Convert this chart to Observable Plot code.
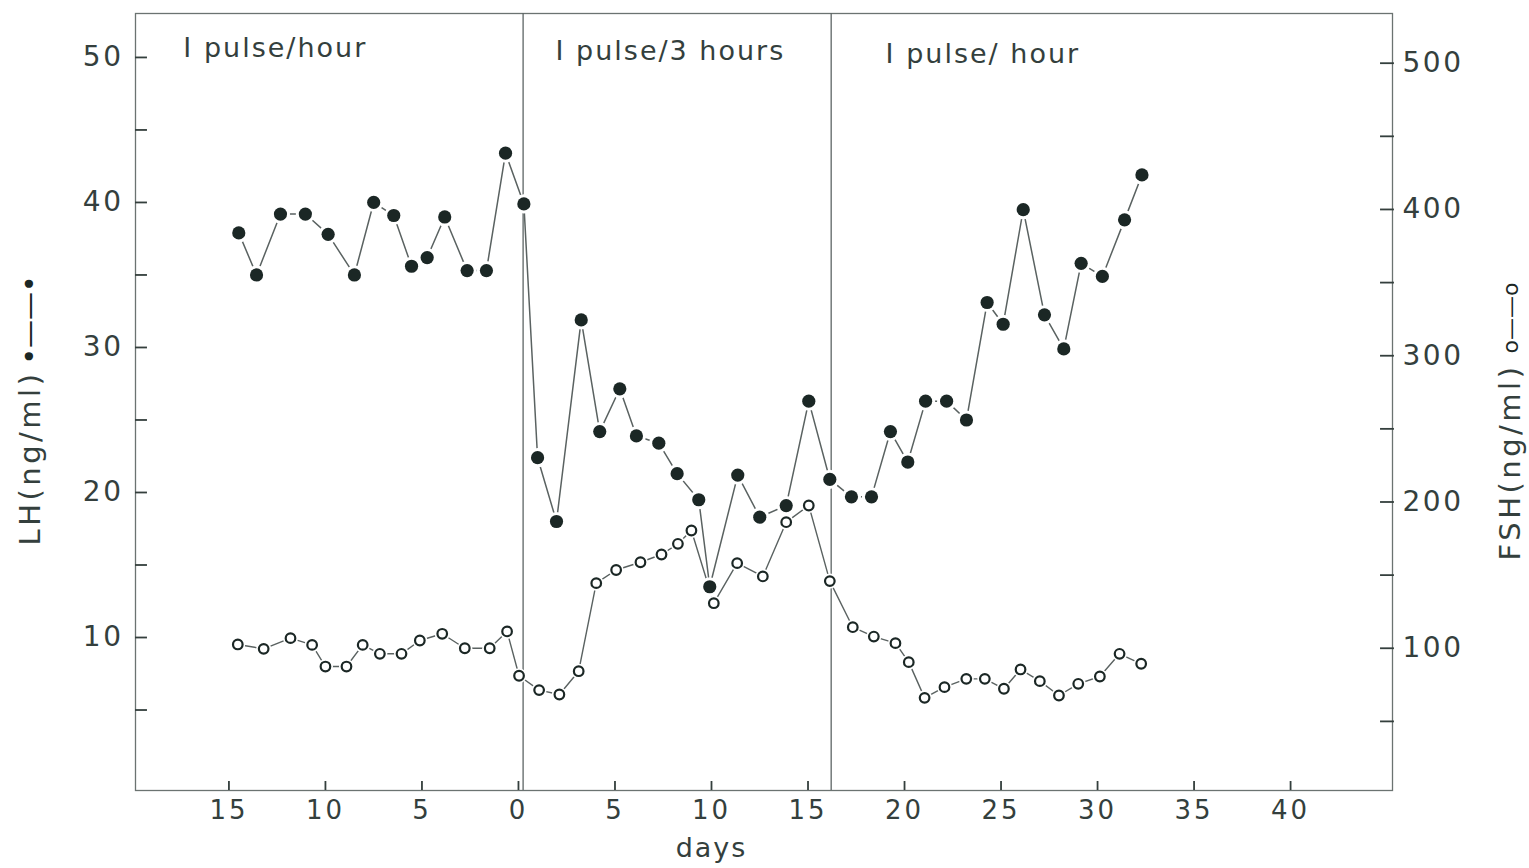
<!DOCTYPE html>
<html>
<head>
<meta charset="utf-8">
<script src="https://cdn.jsdelivr.net/npm/d3@7"></script>
<script src="https://cdn.jsdelivr.net/npm/@observablehq/plot@0.6"></script>
<style>
  body { margin: 0; background: #fff; }
  #chart svg { display: block; }
</style>
</head>
<body>
<div id="chart"></div>
<script>
// ---- data ----
const lhDays = [-14.49, -13.57, -12.33, -11.04, -9.86, -8.50, -7.50, -6.46, -5.54, -4.73, -3.82, -2.66, -1.66, -0.67, 0.28,
  0.99, 1.97, 3.25, 4.21, 5.25, 6.11, 7.27, 8.22, 9.34, 9.91, 11.36, 12.50, 13.87, 15.04, 16.13,
  17.25, 18.29, 19.27, 20.17, 21.09, 22.18, 23.21, 24.28, 25.11, 26.15, 27.25, 28.25, 29.15, 30.25, 31.4, 32.3];
const lhValues = [37.9, 35.0, 39.2, 39.2, 37.8, 35.0, 40.0, 39.1, 35.6, 36.2, 39.0, 35.3, 35.3, 43.4, 39.9,
  22.4, 18.0, 31.9, 24.2, 27.15, 23.9, 23.4, 21.3, 19.5, 13.5, 21.2, 18.3, 19.1, 26.3, 20.9,
  19.7, 19.7, 24.2, 22.1, 26.3, 26.3, 25.0, 33.1, 31.6, 39.5, 32.25, 29.9, 35.8, 34.9, 38.8, 41.9];

const fshDays = [-14.54, -13.2, -11.81, -10.69, -10.0, -8.91, -8.07, -7.18, -6.06, -5.11, -3.95, -2.78, -1.49, -0.59,
  0.03, 1.07, 2.12, 3.12, 4.03, 5.06, 6.32, 7.41, 8.26, 8.96, 10.12, 11.33, 12.66, 13.87, 15.04, 16.13,
  17.32, 18.41, 19.53, 20.22, 21.04, 22.07, 23.2, 24.16, 25.15, 26.01, 27.01, 28.0, 29.0, 30.12, 31.14, 32.26];
const fshValues = [102.6, 99.6, 106.9, 102.3, 87.5, 87.5, 102.3, 96.2, 96.2, 105.3, 109.9, 100.0, 100.0, 111.5,
  81.2, 71.4, 68.4, 84.3, 144.5, 153.5, 158.8, 164.1, 171.4, 180.5, 130.8, 158.2, 149.1, 186.2, 197.6, 145.9,
  114.4, 108.0, 103.5, 90.5, 66.1, 73.4, 79.1, 79.1, 72.3, 85.5, 77.5, 67.7, 75.7, 80.7, 96.2, 89.4];

const xTicks = [-15, -10, -5, 0, 5, 10, 15, 20, 25, 30, 35, 40];
const lhTicks = [5, 10, 15, 20, 25, 30, 35, 40, 45, 50];
const lhLabels = [10, 20, 30, 40, 50];
const fshTicks = [50, 100, 150, 200, 250, 300, 350, 400, 450, 500];
const fshLabels = [100, 200, 300, 400, 500];

const phaseLabels = ["I pulse/hour", "I pulse/3 hours", "I pulse/ hour"];
const phaseStart = [-17.36, 1.92, 19.02];
const phaseY = [50.6, 50.4, 50.2];
const phaseChanges = [0.24, 16.2];

const xTitle = "days";
const lhTitle = "LH(ng/ml)";
const fshTitle = "FSH(ng/ml)";

// ---- scales ----
const X0 = -19.84, X1 = 45.28, Y0 = -0.55, Y1 = 53.03;
// secondary (FSH) axis expressed in LH units
const fshToLH = f => (f * 1.4625 - 12) / 14.5;
const lhToFsh = v => (v * 14.5 + 12) / 1.4625;

const lh = lhDays.map((d, i) => ({day: d, value: lhValues[i]}));
const fsh = fshDays.map((d, i) => ({day: d, value: fshToLH(fshValues[i])}));

const ink = "#343f3d";
const lineInk = "#5a6261";
const dotInk = "#1b2725";
const font = "DejaVu Sans";

const chart = Plot.plot({
  width: 1529,
  height: 868,
  marginLeft: 135,
  marginRight: 137,
  marginTop: 13,
  marginBottom: 78,
  style: {fontFamily: font, background: "white", color: ink},
  x: {domain: [X0, X1]},
  y: {domain: [Y0, Y1]},
  marks: [
    Plot.frame({stroke: "#6b7371", strokeWidth: 1.3}),
    Plot.ruleX(phaseChanges, {x: d => d, stroke: "#5d6564", strokeWidth: 1.3}),
    Plot.ruleX(xTicks, {x: d => d, y1: Y0, y2: Y0 + 0.62, stroke: ink, strokeWidth: 1.8}),
    Plot.ruleY(lhTicks, {y: d => d, x1: X0, x2: X0 + 0.62, stroke: ink, strokeWidth: 1.8}),
    Plot.ruleY(fshTicks, {y: d => fshToLH(d), x1: X1 - 0.62, x2: X1 + 0.1, stroke: ink, strokeWidth: 1.8}),
    Plot.axisX(xTicks, {tickSize: 0, tickPadding: 10, tickFormat: d => String(Math.abs(d)), fontSize: 26, label: null}),
    Plot.axisY(lhLabels, {anchor: "left", tickSize: 0, tickPadding: 12, fontSize: 28, label: null}),
    Plot.axisY(fshLabels.map(fshToLH), {anchor: "right", tickSize: 0, tickPadding: 10, fontSize: 28, label: null,
      tickFormat: v => String(Math.round(lhToFsh(v)))}),

    // series lines
    Plot.line(fsh, {x: "day", y: "value", stroke: lineInk, strokeWidth: 1.4}),
    Plot.line(lh, {x: "day", y: "value", stroke: lineInk, strokeWidth: 1.5}),

    // FSH open circles (with white halo)
    Plot.dot(fsh, {x: "day", y: "value", r: 7.5, fill: "white", stroke: null}),
    Plot.dot(fsh, {x: "day", y: "value", r: 4.8, fill: "white", stroke: dotInk, strokeWidth: 2.2}),
    // LH filled dots (with white halo)
    Plot.dot(lh, {x: "day", y: "value", r: 6.6, fill: dotInk, stroke: "white", strokeWidth: 6, paintOrder: "stroke"}),

    // phase annotations
    Plot.text(phaseLabels, {x: (d, i) => phaseStart[i], y: (d, i) => phaseY[i], text: d => d,
      textAnchor: "start", fontSize: 27, fill: ink}),

    // axis titles
    Plot.text([xTitle], {x: () => 10, frameAnchor: "bottom", dy: 66, text: d => d, fontSize: 27, fill: ink}),
    Plot.text([lhTitle], {frameAnchor: "left", textAnchor: "middle", dx: -105, dy: 56, rotate: -90, text: d => d, fontSize: 29, fill: ink}),
    Plot.text(["•——•"], {frameAnchor: "left", textAnchor: "middle", dx: -105, dy: -82, rotate: -90, text: d => d, fontSize: 28, fill: dotInk}),
    Plot.text([fshTitle], {frameAnchor: "right", textAnchor: "middle", dx: 118, dy: 60, rotate: -90, text: d => d, fontSize: 29, fill: ink}),
    Plot.text(["o——o"], {frameAnchor: "right", textAnchor: "middle", dx: 118, dy: -84, rotate: -90, text: d => d, fontSize: 22, fill: dotInk})
  ]
});

document.getElementById("chart").appendChild(chart);
const svg = d3.select(chart);
function spacing(sel, px) {
  sel.attr("letter-spacing", px).style("letter-spacing", px + "px");
}
spacing(svg.selectAll("g[aria-label='x-axis tick label'] text"), 3);
spacing(svg.selectAll("g[aria-label='y-axis tick label'] text"), 2.5);
const allText = svg.selectAll("text");
spacing(allText.filter(function() { return phaseLabels.includes(this.textContent); }), 2);
spacing(allText.filter(function() { return this.textContent === xTitle; }), 2);
spacing(allText.filter(function() { return this.textContent === lhTitle || this.textContent === fshTitle; }), 3.5);
</script>
</body>
</html>
